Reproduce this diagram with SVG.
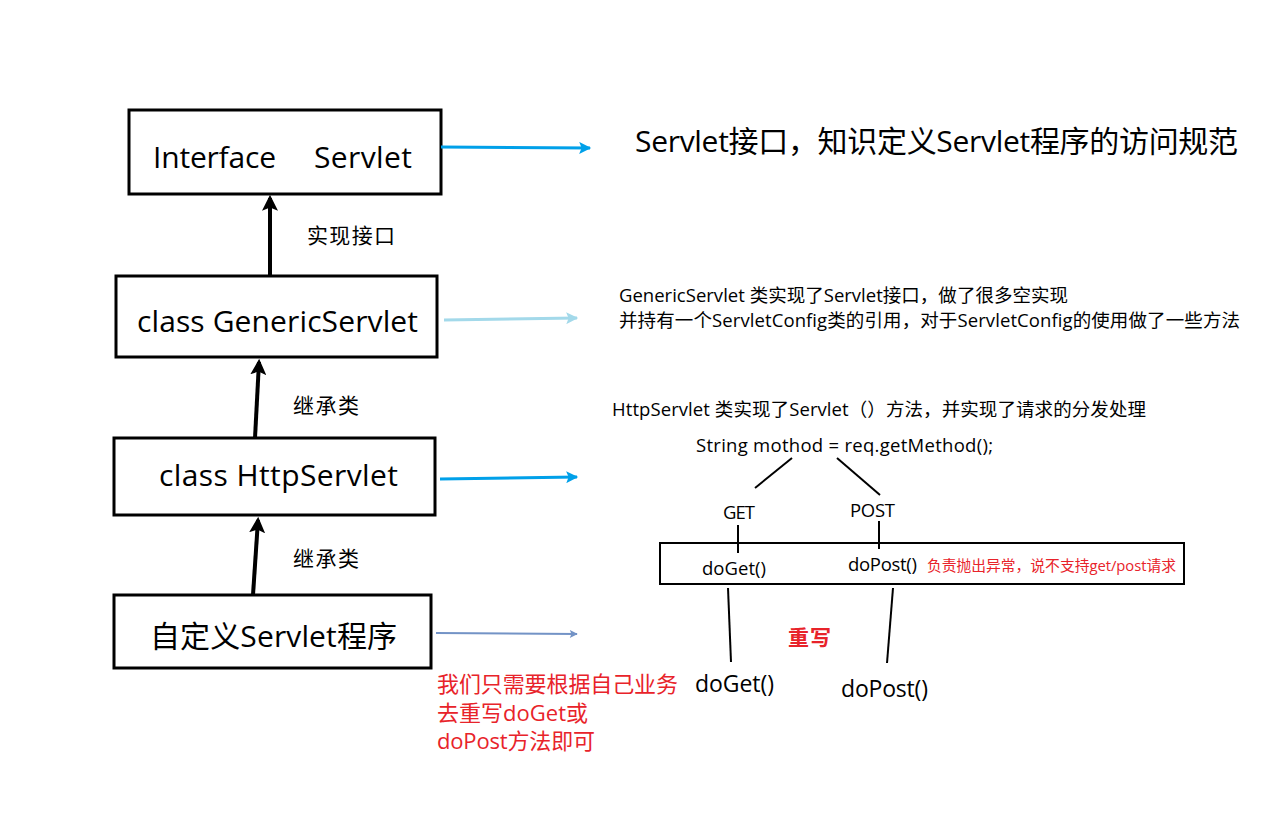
<svg xmlns="http://www.w3.org/2000/svg" width="1284" height="827" viewBox="0 0 1284 827">
<defs>
<style>
text{font-family:"Open Sans","Noto Sans CJK SC",sans-serif;fill:#000}
.box{fill:#fff;stroke:#000;stroke-width:3}
.big{font-size:30px}
.lbl{font-size:21px}
.sm{font-size:18.5px}
.red{fill:#e8232a}
.thin{stroke:#000;stroke-width:2;fill:none}
</style>
<marker id="ab" viewBox="0 0 10 10" refX="8" refY="5" markerWidth="4" markerHeight="4" orient="auto"><path d="M0,0 L10,5 L0,10 L2,5 Z" fill="#000"/></marker>
<marker id="a1" viewBox="0 0 10 10" refX="9" refY="5" markerWidth="4.5" markerHeight="4" orient="auto"><path d="M0,0 L10,5 L0,10 L2,5 Z" fill="#00a0e9"/></marker>
<marker id="a2" viewBox="0 0 10 10" refX="9" refY="5" markerWidth="4.5" markerHeight="4" orient="auto"><path d="M0,0 L10,5 L0,10 L2,5 Z" fill="#a3d9ea"/></marker>
<marker id="a3" viewBox="0 0 10 10" refX="9" refY="5" markerWidth="5" markerHeight="4" orient="auto"><path d="M0,0 L10,5 L0,10 L2,5 Z" fill="#7393c6"/></marker>
</defs>
<rect width="1284" height="827" fill="#fff"/>
<g id="node-servlet"><rect class="box" x="129" y="110" width="312" height="84"/><text class="big" x="153" y="168" textLength="123">Interface</text><text class="big" x="314" y="168" textLength="98">Servlet</text></g>
<g id="node-generic"><rect class="box" x="116" y="276" width="321" height="81"/><text class="big" x="137" y="332" textLength="281">class GenericServlet</text></g>
<g id="node-http"><rect class="box" x="114" y="438" width="321" height="77"/><text class="big" x="159" y="486" textLength="239">class HttpServlet</text></g>
<g id="node-custom"><rect class="box" x="114" y="595" width="317" height="73"/><text class="big" x="150" y="647" textLength="247">自定义Servlet程序</text></g>
<g id="connectors">
<line x1="270" y1="276" x2="270" y2="198" stroke="#000" stroke-width="4" marker-end="url(#ab)"/>
<line x1="255" y1="438" x2="259" y2="362" stroke="#000" stroke-width="4" marker-end="url(#ab)"/>
<line x1="253" y1="595" x2="258" y2="520" stroke="#000" stroke-width="4" marker-end="url(#ab)"/>
<line x1="441" y1="147" x2="590" y2="148" stroke="#00a0e9" stroke-width="3" marker-end="url(#a1)"/>
<line x1="444" y1="320" x2="577" y2="318" stroke="#a3d9ea" stroke-width="3" marker-end="url(#a2)"/>
<line x1="440" y1="479" x2="577" y2="477" stroke="#00a0e9" stroke-width="3" marker-end="url(#a1)"/>
<line x1="436" y1="633" x2="577" y2="634" stroke="#7393c6" stroke-width="2" marker-end="url(#a3)"/>
<line class="thin" x1="792" y1="458" x2="755" y2="488"/>
<line class="thin" x1="837" y1="458" x2="880" y2="495"/>
<line class="thin" x1="738" y1="525" x2="738" y2="553"/>
<line class="thin" x1="879" y1="521" x2="879" y2="549"/>
<line class="thin" x1="728" y1="588" x2="731" y2="662"/>
<line class="thin" x1="893" y1="588" x2="887" y2="663"/>
</g>
<text class="lbl" x="307" y="243" textLength="88">实现接口</text>
<text class="lbl" x="293" y="413" textLength="66">继承类</text>
<text class="lbl" x="293" y="566" textLength="66">继承类</text>
<text x="635" y="152" style="font-size:30px" textLength="603">Servlet接口，知识定义Servlet程序的访问规范</text>
<text class="sm" x="619" y="302" textLength="449">GenericServlet 类实现了Servlet接口，做了很多空实现</text>
<text class="sm" x="619" y="327" textLength="621">并持有一个ServletConfig类的引用，对于ServletConfig的使用做了一些方法</text>
<text class="sm" x="612" y="416" textLength="534">HttpServlet 类实现了Servlet（）方法，并实现了请求的分发处理</text>
<text class="sm" x="696" y="452" textLength="297">String mothod = req.getMethod();</text>
<text class="sm" x="723" y="519" textLength="32">GET</text>
<text class="sm" x="850" y="517" textLength="45">POST</text>
<rect x="660" y="543" width="524" height="41" fill="none" stroke="#000" stroke-width="2"/>
<text class="sm" x="702" y="575" textLength="64">doGet()</text>
<text class="sm" x="848" y="571" textLength="69">doPost()</text>
<text class="red" x="927" y="571" style="font-size:14.8px" textLength="249">负责抛出异常，说不支持get/post请求</text>
<text class="red" x="788" y="645" style="font-size:21px;font-weight:bold" textLength="43">重写</text>
<text x="695" y="692" style="font-size:23px" textLength="79">doGet()</text>
<text x="841" y="697" style="font-size:23px" textLength="87">doPost()</text>
<text class="red" x="437" y="692" style="font-size:22px" textLength="241">我们只需要根据自己业务</text>
<text class="red" x="437" y="721" style="font-size:22px" textLength="151">去重写doGet或</text>
<text class="red" x="437" y="749" style="font-size:22px" textLength="158">doPost方法即可</text>
</svg>
